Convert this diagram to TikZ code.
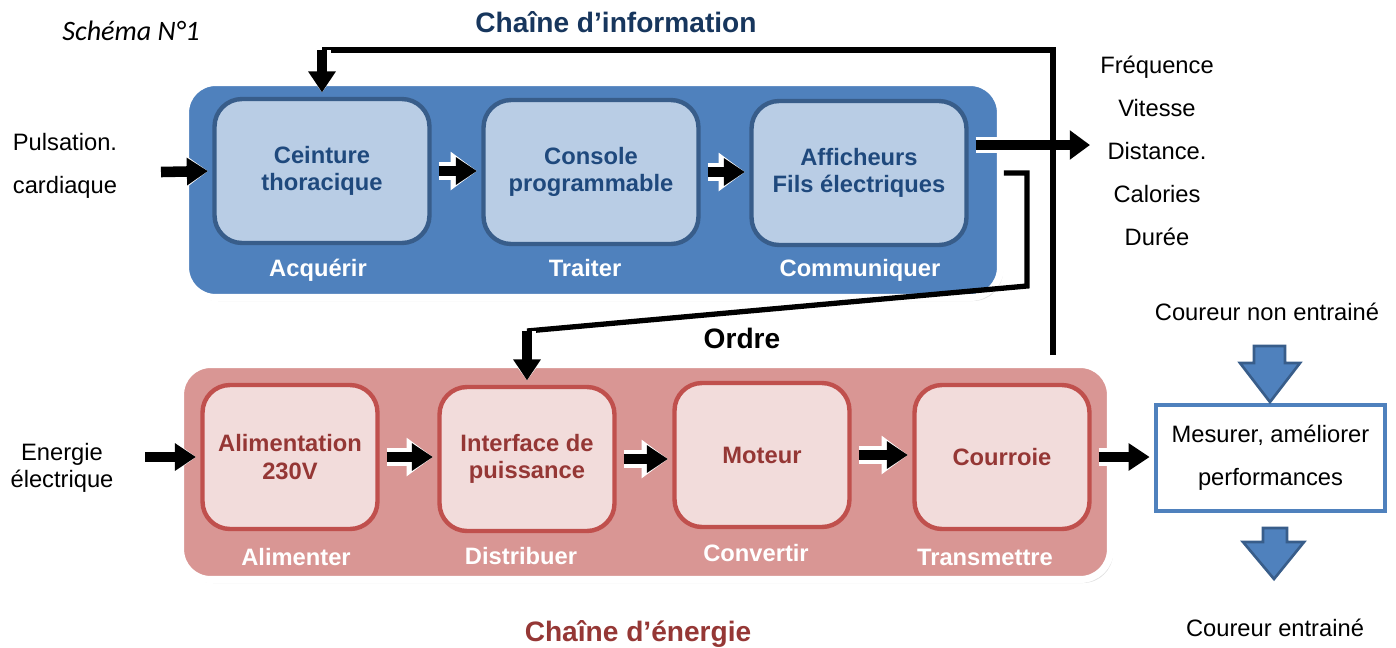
\documentclass[tikz,border=0pt]{standalone}
\usepackage{fontspec}
\setmainfont{Liberation Sans}
\newfontfamily\carlito{Carlito}
\usepackage{xcolor}
\usetikzlibrary{arrows.meta}
\usetikzlibrary{positioning}
\usetikzlibrary{shadows}

\definecolor{infofond}{HTML}{4F81BD}
\definecolor{infoclair}{HTML}{B9CDE5}
\definecolor{infobord}{HTML}{385D8A}
\definecolor{infotexte}{HTML}{1F497D}
\definecolor{infotitre}{HTML}{17365D}
\definecolor{energiefond}{HTML}{D99694}
\definecolor{energieclair}{HTML}{F2DCDB}
\definecolor{energiebord}{HTML}{C0504D}
\definecolor{energietexte}{HTML}{953735}

\tikzset{
  chaine/.style={rounded corners=0.6cm, draw=white, line width=4pt,
    minimum height=4.3cm,
    drop shadow={opacity=0.25, shadow xshift=1.5pt, shadow yshift=-2pt}},
  bloc/.style={rounded corners=0.55cm, line width=2.5pt, align=center,
    font=\fontsize{13.5}{15.5}\selectfont\bfseries, minimum height=2.88cm},
  bloci/.style={bloc, fill=infoclair, draw=infobord, text=infotexte,
    minimum width=4.3cm},
  bloce/.style={bloc, fill=energieclair, draw=energiebord,
    text=energietexte, minimum width=3.5cm},
  fonction/.style={text=white, font=\fontsize{13.5}{15.5}\selectfont\bfseries},
  titre/.style={font=\fontsize{16}{18}\selectfont\bfseries},
  texte/.style={align=center, font=\fontsize{13.5}{24.4}\selectfont},
  grossefleche/.style={shorten >=2.5pt, line width=6pt,
    -{Triangle[length=12pt, width=15pt]},
    preaction={draw=white, line width=10pt,
      -{Triangle[length=15pt, width=21pt]}}},
  entreblocs/.style={grossefleche, shorten <=4pt},
  sortiefleche/.style={shorten <=4pt, line width=5.5pt,
    -{Triangle[length=11.5pt, width=16pt]},
    preaction={draw=white, line width=9.5pt,
      -{Triangle[length=14.5pt, width=22pt]}}},
  retour/.style={line width=3pt},
  flechebleue/.style={fill=infofond, draw=infobord, line width=1.5pt}
}

\begin{document}
\begin{tikzpicture}[x=0.02cm, y=-0.02cm]

  \useasboundingbox (0,0) rectangle (1396,647);

  % les deux chaines
  \node[chaine, fill=infofond, minimum width=16.3cm] (info) at (593,190) {};
  \node[chaine, fill=energiefond, minimum width=18.6cm] (energie) at (645.5,472) {};

  % chaine d'information
  \node[bloci] (ceinture) at (322,171) {Ceinture\\thoracique};
  \node[bloci] (console) at (591,172) {Console\\programmable};
  \node[bloci] (afficheurs) at (859,173) {Afficheurs\\Fils électriques};

  \node[fonction] (acquerir) at (318,270) {Acquérir};
  \node[fonction] (traiter) at (585,268) {Traiter};
  \node[fonction] (communiquer) at (860,270) {Communiquer};

  % chaine d'energie
  \node[bloce] (alimentation) at (290,457) {Alimentation\\230V};
  \node[bloce] (interface) at (527,459) {Interface de\\puissance};
  \node[bloce] (moteur) at (762,455) {Moteur};
  \node[bloce] (courroie) at (1002,457) {Courroie};

  \node[fonction] (alimenter) at (296,557) {Alimenter};
  \node[fonction] (distribuer) at (521,556) {Distribuer};
  \node[fonction] (convertir) at (756,553) {Convertir};
  \node[fonction] (transmettre) at (985,557) {Transmettre};

  % textes
  \node[font=\carlito\itshape\fontsize{16}{18}\selectfont] (schema) at (131,31) {Schéma N°1};
  \node[titre, text=infotitre] (titreinfo) at (616,22) {Chaîne d’information};
  \node[titre, text=energietexte] (titreenergie) at (638,634) {Chaîne d’énergie};
  \node[titre] (ordre) at (742,338) {Ordre};

  \node[texte] (pulsation) at (65,166) {Pulsation.\\cardiaque};
  \node[texte] (grandeurs) at (1157,151)
    {Fréquence\\Vitesse\\Distance.\\Calories\\Durée};
  \node[align=center, font=\fontsize{13.5}{15}\selectfont] (energieelec)
    at (62,468) {Energie\\électrique};

  \node[texte, draw=infofond, line width=2.3pt, fill=white, minimum width=4.58cm,
    minimum height=2.12cm] (mesurer) at (1270.5,458) {Mesurer, améliorer\\performances};
  \node[texte] (nonentraine) at (1267,312) {Coureur non entrainé};
  \node[texte] (entraine) at (1275,628) {Coureur entrainé};

  % fleches de la chaine d'information
  \coordinate (entreeinfo) at (161,172);
  \draw[grossefleche] (entreeinfo) -- (ceinture.west);
  \draw[entreblocs] (ceinture.east) -- (ceinture.east -| console.west);
  \draw[entreblocs] (console.east) -- (console.east -| afficheurs.west);

  \coordinate (sortie) at (1090,145);
  \draw[sortiefleche] (afficheurs.east |- sortie) -- (sortie);

  % fleches de la chaine d'energie
  \coordinate (entreeenergie) at (145,457);
  \draw[grossefleche] (entreeenergie) -- (alimentation.west);
  \draw[entreblocs] (alimentation.east) -- (alimentation.east -| interface.west);
  \draw[entreblocs] (interface.east) -- (interface.east -| moteur.west);
  \draw[entreblocs] (moteur.east) -- (moteur.east -| courroie.west);
  \draw[entreblocs] (courroie.east) -- (courroie.east -| mesurer.west);

  % ordre vers l'interface
  \coordinate (coudehaut) at (1027,173);
  \coordinate (coudebas) at (1027,286);
  \coordinate (ordredepart) at (527,331);
  \draw[retour] (info.east |- afficheurs.east) -- (coudehaut) -- (coudebas)
    -- (ordredepart);
  \draw[grossefleche] (ordredepart) -- (interface.north);

  % retour vers l'acquisition
  \coordinate (retourbas) at (1053,355);
  \coordinate (retourhaut) at (1053,50);
  \draw[retour] (retourbas) -- (retourhaut) -- (ceinture.north |- retourhaut);
  \draw[grossefleche] (ceinture.north |- retourhaut) -- (ceinture.north);

  % coureur
  \draw[flechebleue] (1254,346) -- (1285,346) -- (1285,363) -- (1300,363)
    -- (1270,402) -- (1240,363) -- (1254,363) -- cycle;
  \draw[flechebleue] (1263,528) -- (1287,528) -- (1287,542) -- (1304,542)
    -- (1274,579) -- (1243,542) -- (1263,542) -- cycle;

\end{tikzpicture}
\end{document}
